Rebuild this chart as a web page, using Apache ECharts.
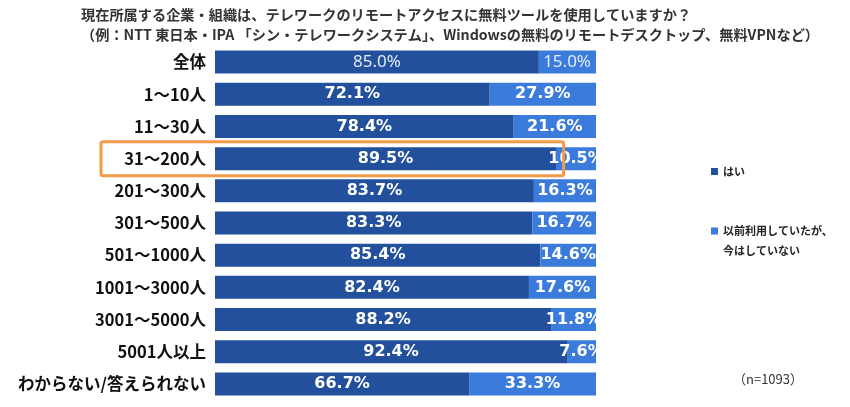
<!DOCTYPE html>
<html>
<head>
<meta charset="utf-8">
<script src="https://cdn.jsdelivr.net/npm/echarts@6/dist/echarts.min.js"></script>
<style>
  html, body { margin: 0; padding: 0; background: #fff; }
  #chart { width: 850px; height: 407px; }
</style>
</head>
<body>
<div id="chart"></div>
<script>
const categories = ['全体', '1～10人', '11～30人', '31～200人', '201～300人', '301～500人',
  '501～1000人', '1001～3000人', '3001～5000人', '5001人以上', 'わからない/答えられない'];
const yesValues = [85.0, 72.1, 78.4, 89.5, 83.7, 83.3, 85.4, 82.4, 88.2, 92.4, 66.7];
const formerValues = [15.0, 27.9, 21.6, 10.5, 16.3, 16.7, 14.6, 17.6, 11.8, 7.6, 33.3];
const seriesNames = ['はい', '以前利用していたが、今はしていない'];
const highlightCategory = '31～200人';

const darkBlue = '#22509d';
const lightBlue = '#3b7bdb';

let chart = echarts.init(document.getElementById('chart'));

const jpFont = '"Noto Sans CJK JP", "Noto Sans", sans-serif';
const numLabel = {
  show: true,
  position: 'inside',
  color: '#fff',
  fontFamily: '"DejaVu Sans", sans-serif',
  fontWeight: 'bold',
  fontSize: 16,
  formatter: p => p.value.toFixed(1) + '%'
};
// 「全体」の行だけ細字
const totalLabel = {
  fontFamily: '"Noto Sans", sans-serif',
  fontWeight: 'normal',
  fontSize: 17,
  color: '#e4ebf7'
};

function toData(values, isFormer) {
  return values.map((v, i) => {
    if (i !== 0) return v;
    const label = Object.assign({}, totalLabel);
    if (isFormer) label.position = 'insideRight';
    return { value: v, label: label };
  });
}

const legendText = { fontFamily: jpFont, fontSize: 11, fontWeight: 'bold', color: '#222' };

const option = {
  animation: false,
  title: {
    text: '現在所属する企業・組織は、テレワークのリモートアクセスに無料ツールを使用していますか？\n（例：NTT 東日本・IPA 「シン・テレワークシステム」、Windowsの無料のリモートデスクトップ、無料VPNなど）',
    left: 76,
    top: 0,
    textStyle: {
      fontFamily: jpFont,
      fontSize: 14.2,
      fontWeight: 'bold',
      color: '#333',
      lineHeight: 20
    }
  },
  legend: [{
    data: [seriesNames[0]],
    orient: 'vertical',
    left: 706,
    top: 161,
    itemWidth: 7,
    itemHeight: 7,
    icon: 'rect',
    textStyle: legendText
  }, {
    data: [seriesNames[1]],
    orient: 'vertical',
    left: 706,
    top: 196,
    itemWidth: 7,
    itemHeight: 7,
    icon: 'rect',
    // 1行目をアイコンの高さに揃えるため先頭に空行
    formatter: () => '\n以前利用していたが、\n今はしていない',
    textStyle: Object.assign({ lineHeight: 20 }, legendText)
  }],
  grid: { left: 215, right: 254, top: 46, bottom: 7 },
  xAxis: {
    type: 'value',
    min: 0,
    max: 100,
    show: false
  },
  yAxis: {
    type: 'category',
    inverse: true,
    data: categories,
    axisLine: { show: false },
    axisTick: { show: false },
    axisLabel: {
      margin: 9,
      color: '#111',
      fontFamily: jpFont,
      fontWeight: 'bold',
      fontSize: 16.5
    }
  },
  series: [{
    name: seriesNames[0],
    type: 'bar',
    stack: 'total',
    barWidth: 23,
    itemStyle: { color: darkBlue },
    label: numLabel,
    data: toData(yesValues, false)
  }, {
    name: seriesNames[1],
    type: 'bar',
    stack: 'total',
    barWidth: 23,
    itemStyle: { color: lightBlue },
    label: numLabel,
    data: toData(formerValues, true)
  }]
};
chart.setOption(option);

// 強調枠と n 数
const rowIndex = categories.indexOf(highlightCategory);
const rowY = chart.convertToPixel({ yAxisIndex: 0 }, rowIndex);
const boxRight = chart.convertToPixel({ xAxisIndex: 0 }, 91.5);
chart.setOption({
  graphic: [{
    type: 'rect',
    shape: { x: 101, y: rowY - 17, width: boxRight - 101, height: 34, r: 2 },
    style: { fill: 'none', stroke: '#f29a4a', lineWidth: 3 },
    z: 100
  }, {
    type: 'text',
    left: 733,
    top: 373,
    style: {
      text: '（n=1093）',
      fontFamily: jpFont,
      fontSize: 13,
      fill: '#333'
    }
  }]
});

window.addEventListener('resize', function() {
  chart.resize();
});
</script>
</body>
</html>
